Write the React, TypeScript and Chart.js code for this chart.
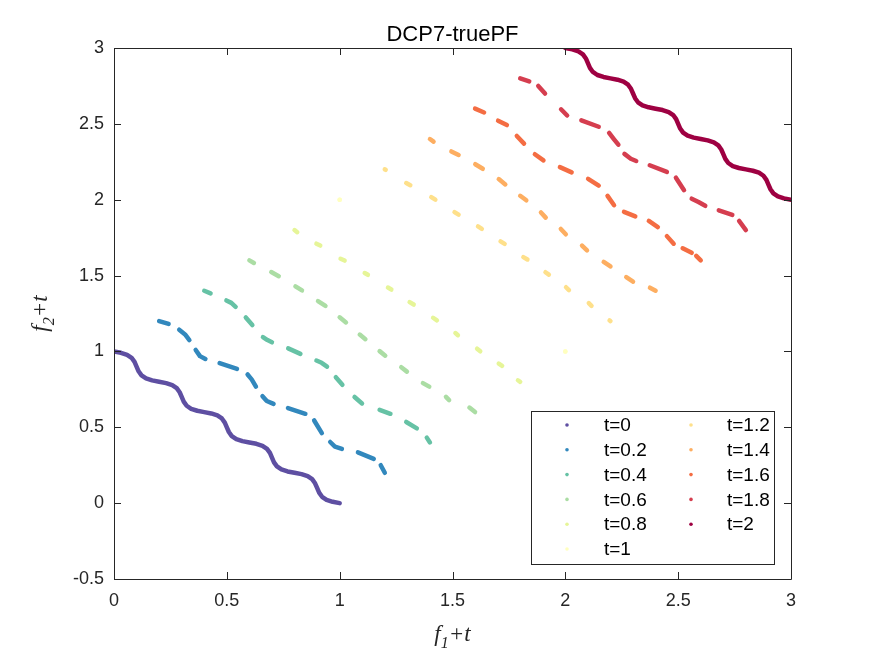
import { useEffect, useRef } from 'react';
import { Chart, registerables } from 'chart.js';

Chart.register(...registerables);

type Pt = [number, number] | null;

const TITLE = 'DCP7-truePF';
const SERIES_LABELS = ['t=0', 't=0.2', 't=0.4', 't=0.6', 't=0.8', 't=1', 't=1.2', 't=1.4', 't=1.6', 't=1.8', 't=2'];
const SERIES_COLORS = ['#5e4fa2', '#3288bd', '#66c2a5', '#abdda4', '#e6f598', '#ffffbf', '#fee08b', '#fdae61', '#f46d43', '#d53e4f', '#9e0142'];
const X_TICKS = [0, 0.5, 1, 1.5, 2, 2.5, 3];
const Y_TICKS = [-0.5, 0, 0.5, 1, 1.5, 2, 2.5, 3];

const pfT00: Pt[] = [[0,1],[0.031,0.991],[0.058,0.978],[0.078,0.958],[0.091,0.931],[0.1,0.9],[0.109,0.869],[0.122,0.842],[0.142,0.822],[0.169,0.809],[0.2,0.8],[0.231,0.791],[0.258,0.778],[0.278,0.758],[0.291,0.731],[0.3,0.7],[0.309,0.669],[0.322,0.642],[0.342,0.622],[0.369,0.609],[0.4,0.6],[0.431,0.591],[0.458,0.578],[0.478,0.558],[0.491,0.531],[0.5,0.5],[0.509,0.469],[0.522,0.442],[0.542,0.422],[0.569,0.409],[0.6,0.4],[0.631,0.391],[0.658,0.378],[0.678,0.358],[0.691,0.331],[0.7,0.3],[0.709,0.269],[0.722,0.242],[0.742,0.222],[0.769,0.209],[0.8,0.2],[0.831,0.191],[0.858,0.178],[0.878,0.158],[0.891,0.131],[0.9,0.1],[0.909,0.069],[0.922,0.042],[0.942,0.022],[0.969,0.009],[1,0]];

const pfT02: Pt[] = [
  [0.2,1.2],[0.242,1.181], null,
  [0.289,1.143],[0.315,1.112],[0.334,1.075], null,
  [0.362,1.010],[0.381,0.969],[0.405,0.950], null,
  [0.468,0.923],[0.545,0.885], null,
  [0.592,0.848],[0.610,0.816],[0.629,0.768], null,
  [0.658,0.705],[0.677,0.673],[0.707,0.654], null,
  [0.771,0.627],[0.848,0.589], null,
  [0.887,0.545],[0.921,0.462], null,
  [0.958,0.403],[0.979,0.373],[1.010,0.358], null,
  [1.081,0.335],[1.151,0.292], null,
  [1.182,0.25],[1.2,0.2],
];

const pfT04: Pt[] = [
  [0.4,1.4],[0.428,1.383], null,
  [0.498,1.336],[0.520,1.32],[0.539,1.294], null,
  [0.584,1.224],[0.613,1.174], null,
  [0.660,1.095],[0.680,1.075],[0.700,1.060], null,
  [0.772,1.020],[0.826,0.984], null,
  [0.897,0.940],[0.920,0.925],[0.944,0.900], null,
  [0.983,0.830],[1.012,0.780], null,
  [1.066,0.700],[1.085,0.675],[1.099,0.657], null,
  [1.177,0.615],[1.225,0.589], null,
  [1.295,0.535],[1.342,0.493], null,
  [1.386,0.432],[1.4,0.4],
];

const pfT06: Pt[] = [
  [0.6,1.6],[0.62,1.583], null,
  [0.697,1.523],[0.730,1.496], null,
  [0.804,1.429],[0.833,1.402], null,
  [0.904,1.332],[0.937,1.300], null,
  [1.000,1.225],[1.028,1.191], null,
  [1.089,1.111],[1.114,1.081], null,
  [1.177,1.002],[1.202,0.972], null,
  [1.273,0.896],[1.298,0.867], null,
  [1.369,0.791],[1.397,0.768], null,
  [1.471,0.700],[1.485,0.679], null,
  [1.575,0.63],[1.6,0.6],
];

const pfT08: Pt[] = [
  [0.8,1.8],[0.812,1.786], null,
  [0.897,1.71],[0.914,1.698], null,
  [1.004,1.611],[1.022,1.599], null,
  [1.111,1.517],[1.125,1.505], null,
  [1.214,1.421],[1.229,1.408], null,
  [1.31,1.325],[1.328,1.309], null,
  [1.414,1.222],[1.431,1.205], null,
  [1.513,1.121],[1.524,1.107], null,
  [1.609,1.018],[1.623,1.001], null,
  [1.705,0.92],[1.72,0.905], null,
  [1.79,0.81],[1.8,0.8],
];

const pfT10: Pt[] = [[1,2], null, [2,1]];

const pfT12: Pt[] = [
  [1.2,2.2],[1.204,2.197], null,
  [1.295,2.11],[1.313,2.096], null,
  [1.406,2.017],[1.424,2.0], null,
  [1.509,1.918],[1.527,1.902], null,
  [1.613,1.824],[1.63,1.808], null,
  [1.713,1.725],[1.731,1.709], null,
  [1.814,1.622],[1.832,1.606], null,
  [1.912,1.522],[1.927,1.506], null,
  [2.003,1.423],[2.016,1.404], null,
  [2.104,1.318],[2.116,1.3], null,
  [2.196,1.204],[2.2,1.2],
];

const pfT14: Pt[] = [
  [1.4,2.4],[1.416,2.383], null,
  [1.495,2.318],[1.527,2.295], null,
  [1.601,2.234],[1.634,2.204], null,
  [1.705,2.136],[1.734,2.101], null,
  [1.800,2.026],[1.827,1.996], null,
  [1.892,1.916],[1.913,1.882], null,
  [1.98,1.807],[2.002,1.772], null,
  [2.074,1.698],[2.096,1.666], null,
  [2.17,1.59],[2.2,1.56], null,
  [2.27,1.49],[2.3,1.46], null,
  [2.375,1.42],[2.4,1.4],
];

const pfT16: Pt[] = [
  [1.6,2.6],[1.64,2.575], null,
  [1.702,2.521],[1.741,2.492], null,
  [1.785,2.42],[1.817,2.37], null,
  [1.865,2.300],[1.903,2.259], null,
  [1.976,2.215],[2.028,2.18], null,
  [2.101,2.138],[2.148,2.093], null,
  [2.187,2.025],[2.216,1.964], null,
  [2.26,1.92],[2.31,1.89], null,
  [2.37,1.86],[2.41,1.82], null,
  [2.45,1.76],[2.48,1.71], null,
  [2.52,1.68],[2.56,1.65], null,
  [2.58,1.63],[2.6,1.6],
];

const pfT18: Pt[] = [
  [1.8,2.8],[1.84,2.78], null,
  [1.88,2.75],[1.91,2.70], null,
  [1.981,2.596],[2.008,2.555], null,
  [2.071,2.523],[2.148,2.481], null,
  [2.194,2.44],[2.215,2.40],[2.235,2.363], null,
  [2.262,2.302],[2.29,2.27],[2.314,2.255], null,
  [2.374,2.227],[2.45,2.183], null,
  [2.49,2.145],[2.526,2.063], null,
  [2.56,2.007],[2.59,1.985],[2.62,1.96], null,
  [2.68,1.93],[2.74,1.90], null,
  [2.77,1.86],[2.8,1.8],
];

const pfT20: Pt[] = [[2,3],[2.031,2.991],[2.058,2.978],[2.078,2.958],[2.091,2.931],[2.1,2.9],[2.109,2.869],[2.122,2.842],[2.142,2.822],[2.169,2.809],[2.2,2.8],[2.231,2.791],[2.258,2.778],[2.278,2.758],[2.291,2.731],[2.3,2.7],[2.309,2.669],[2.322,2.642],[2.342,2.622],[2.369,2.609],[2.4,2.6],[2.431,2.591],[2.458,2.578],[2.478,2.558],[2.491,2.531],[2.5,2.5],[2.509,2.469],[2.522,2.442],[2.542,2.422],[2.569,2.409],[2.6,2.4],[2.631,2.391],[2.658,2.378],[2.678,2.358],[2.691,2.331],[2.7,2.3],[2.709,2.269],[2.722,2.242],[2.742,2.222],[2.769,2.209],[2.8,2.2],[2.831,2.191],[2.858,2.178],[2.878,2.158],[2.891,2.131],[2.9,2.1],[2.909,2.069],[2.922,2.042],[2.942,2.022],[2.969,2.009],[3,2]];

const SERIES_POINTS: Pt[][] = [pfT00, pfT02, pfT04, pfT06, pfT08, pfT10, pfT12, pfT14, pfT16, pfT18, pfT20];

const SANS = '"Liberation Sans", Arial, Helvetica, sans-serif';
const SERIF = '"Liberation Serif", "Times New Roman", serif';
const AXIS_COLOR = '#262626';

function toData(pts: Pt[]) {
  return pts.map((p) => (p ? { x: p[0], y: p[1] } : { x: null as any, y: null as any }));
}

type Part = { text: string; italic: boolean; size: number; dy: number };

function drawMath(ctx: CanvasRenderingContext2D, parts: Part[], cx: number, baseline: number) {
  let total = 0;
  const widths = parts.map((p) => {
    ctx.font = `${p.italic ? 'italic ' : ''}${p.size}px ${SERIF}`;
    const w = ctx.measureText(p.text).width;
    total += w;
    return w;
  });
  let x = cx - total / 2;
  parts.forEach((p, i) => {
    ctx.font = `${p.italic ? 'italic ' : ''}${p.size}px ${SERIF}`;
    ctx.fillText(p.text, x, baseline + p.dy);
    x += widths[i];
  });
}

const framePlugin = {
  id: 'matlabFrame',
  afterDraw(chart: any) {
    const { ctx, chartArea } = chart;
    const { left, right, top, bottom } = chartArea;
    const xs = chart.scales.x;
    const ys = chart.scales.y;
    ctx.save();
    ctx.strokeStyle = AXIS_COLOR;
    ctx.lineWidth = 1;
    ctx.beginPath();
    ctx.rect(Math.round(left) + 0.5, Math.round(top) + 0.5, Math.round(right - left), Math.round(bottom - top));
    ctx.stroke();
    const tl = 7;
    ctx.beginPath();
    X_TICKS.forEach((v) => {
      const px = Math.round(xs.getPixelForValue(v)) + 0.5;
      ctx.moveTo(px, bottom);
      ctx.lineTo(px, bottom - tl);
      ctx.moveTo(px, top);
      ctx.lineTo(px, top + tl);
    });
    Y_TICKS.forEach((v) => {
      const py = Math.round(ys.getPixelForValue(v)) + 0.5;
      ctx.moveTo(left, py);
      ctx.lineTo(left + tl, py);
      ctx.moveTo(right, py);
      ctx.lineTo(right - tl, py);
    });
    ctx.stroke();

    ctx.fillStyle = '#000';
    ctx.font = `22px ${SANS}`;
    ctx.textAlign = 'center';
    ctx.textBaseline = 'alphabetic';
    ctx.fillText(TITLE, (left + right) / 2, 41);

    ctx.textAlign = 'left';
    ctx.fillStyle = AXIS_COLOR;
    drawMath(ctx, [
      { text: 'f', italic: true, size: 23, dy: 0 },
      { text: '1', italic: true, size: 16, dy: 7 },
      { text: '+t', italic: true, size: 23, dy: 0 },
    ], (left + right) / 2, 641);
    ctx.save();
    ctx.translate(47, (top + bottom) / 2);
    ctx.rotate(-Math.PI / 2);
    drawMath(ctx, [
      { text: 'f', italic: true, size: 23, dy: 0 },
      { text: '2', italic: true, size: 16, dy: 7 },
      { text: '+t', italic: true, size: 23, dy: 0 },
    ], 0, 0);
    ctx.restore();

    const lx = 531, ly = 411, lw = 243, lh = 153;
    ctx.fillStyle = '#fff';
    ctx.fillRect(lx, ly, lw, lh);
    ctx.strokeStyle = AXIS_COLOR;
    ctx.strokeRect(lx + 0.5, ly + 0.5, lw, lh);
    ctx.font = `19px ${SANS}`;
    ctx.textBaseline = 'middle';
    ctx.textAlign = 'left';
    SERIES_LABELS.forEach((lab, i) => {
      const col = i < 6 ? 0 : 1;
      const row = i < 6 ? i : i - 6;
      const y = 425 + row * 24.8;
      const mx = col === 0 ? 567 : 691;
      const tx = col === 0 ? 604 : 727;
      ctx.fillStyle = SERIES_COLORS[i];
      ctx.beginPath();
      ctx.arc(mx, y, 1.8, 0, Math.PI * 2);
      ctx.fill();
      ctx.fillStyle = '#000';
      ctx.fillText(lab, tx, y + 1);
    });
    ctx.restore();
  },
};

export default function App() {
  const canvasRef = useRef<HTMLCanvasElement | null>(null);

  useEffect(() => {
    const canvas = canvasRef.current;
    if (!canvas) return;
    const datasets = SERIES_POINTS.map((pts, i) => ({
      label: SERIES_LABELS[i],
      data: toData(pts),
      showLine: true,
      spanGaps: false,
      borderColor: SERIES_COLORS[i],
      backgroundColor: SERIES_COLORS[i],
      borderWidth: 4.5,
      borderCapStyle: 'round' as const,
      borderJoinStyle: 'round' as const,
      pointRadius: i === 5 ? 2.3 : 0,
      pointHoverRadius: 0,
      pointBorderWidth: 0,
      tension: 0,
    }));
    const chart = new Chart(canvas, {
      type: 'scatter',
      data: { datasets },
      options: {
        responsive: false,
        animation: false,
        events: [],
        layout: { padding: { left: 54, right: 84, top: 48, bottom: 37 } },
        plugins: {
          legend: { display: false },
          title: { display: false },
          tooltip: { enabled: false },
        },
        scales: {
          x: {
            type: 'linear',
            min: 0,
            max: 3,
            afterBuildTicks: (s: any) => {
              s.ticks = X_TICKS.map((v) => ({ value: v }));
            },
            afterFit: (s: any) => {
              s.height = 40;
            },
            ticks: {
              font: { family: SANS, size: 18 },
              color: AXIS_COLOR,
              padding: 11,
              autoSkip: false,
              maxRotation: 0,
              callback: (v: any) => String(v),
            },
            grid: { display: false, drawTicks: false },
            border: { display: false },
          },
          y: {
            type: 'linear',
            min: -0.5,
            max: 3,
            afterBuildTicks: (s: any) => {
              s.ticks = Y_TICKS.map((v) => ({ value: v }));
            },
            afterFit: (s: any) => {
              s.width = 60;
            },
            ticks: {
              font: { family: SANS, size: 18 },
              color: AXIS_COLOR,
              padding: 10,
              autoSkip: false,
              callback: (v: any) => String(v),
            },
            grid: { display: false, drawTicks: false },
            border: { display: false },
          },
        },
      },
      plugins: [framePlugin],
    } as any);
    return () => chart.destroy();
  }, []);

  return (
    <div style={{ position: 'fixed', left: 0, top: 0, width: 875, height: 656, background: '#fff' }}>
      <canvas ref={canvasRef} width={875} height={656} style={{ display: 'block', width: 875, height: 656 }} />
    </div>
  );
}
